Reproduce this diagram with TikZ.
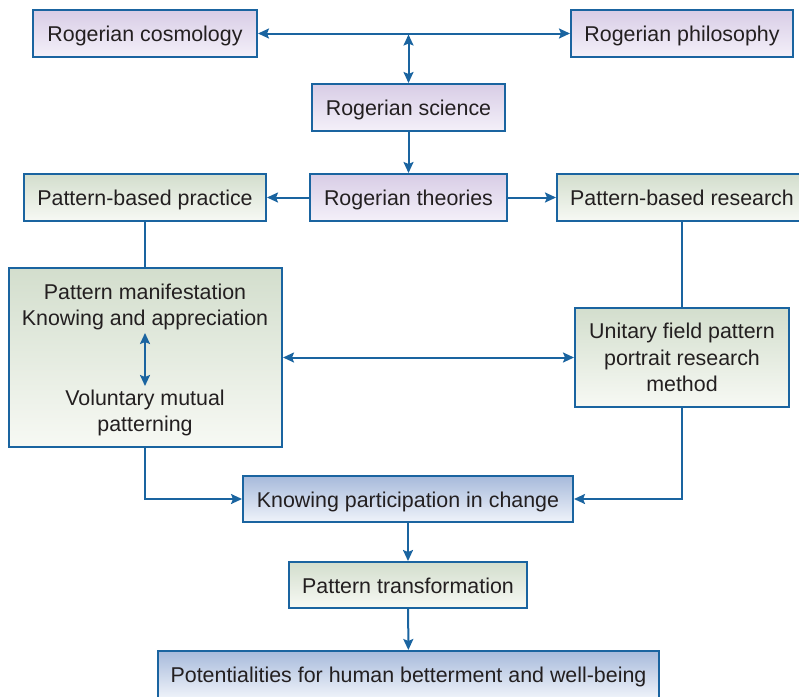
\documentclass[tikz,border=0pt]{standalone}
\usepackage{fontspec}
\setmainfont{Liberation Sans}
\usetikzlibrary{arrows.meta,calc}
\definecolor{edge}{HTML}{1A64A0}
\definecolor{txt}{HTML}{231F20}
\definecolor{purT}{HTML}{D8CDE6}
\definecolor{purB}{HTML}{F4F0F9}
\definecolor{grnT}{HTML}{D3DECD}
\definecolor{grnB}{HTML}{F7F9F4}
\definecolor{bluT}{HTML}{A7BADB}
\definecolor{bluB}{HTML}{EFF3FA}
\tikzset{
  box/.style={draw=edge, line width=2pt, inner sep=0pt, align=center, text=txt,
    font=\fontsize{21.4}{26.5}\selectfont},
  one/.style={text height=16.5pt, text depth=0pt},
  pur/.style={box, one, top color=purT, bottom color=purB},
  grn/.style={box, top color=grnT, bottom color=grnB},
  blu/.style={box, one, top color=bluT, bottom color=bluB},
  lbl/.style={inner sep=0pt, align=center, text=txt, font=\fontsize{21.4}{26.5}\selectfont},
  conn/.style={draw=edge, line width=2pt},
  arr/.style={conn, -{Stealth[length=11pt,width=10pt,inset=2pt]}},
  darr/.style={conn, {Stealth[length=11pt,width=10pt,inset=2pt]}-{Stealth[length=11pt,width=10pt,inset=2pt]}}
}
\begin{document}
\begin{tikzpicture}[x=1pt,y=-1pt]
\useasboundingbox (0,0) rectangle (799,696);
\begin{scope}
\clip (0,0) rectangle (799,696);
% boxes
\node[pur, minimum width=224pt, minimum height=47pt] (cos) at (145,33.5) {Rogerian cosmology};
\node[pur, minimum width=222pt, minimum height=47pt] (phi) at (682,33.5) {Rogerian philosophy};
\node[pur, minimum width=193pt, minimum height=47pt] (sci) at (408.5,107.5) {Rogerian science};
\node[pur, minimum width=197pt, minimum height=47pt] (the) at (408.5,197.5) {Rogerian theories};
\node[grn, one, minimum width=242pt, minimum height=47pt] (pra) at (145,197.5) {Pattern-based practice};
\node[grn, one, minimum width=250pt, minimum height=47pt] (res) at (682,197.5) {Pattern-based research};
\node[grn, minimum width=273pt, minimum height=179pt] (big) at (145.5,357.5) {};
\node[grn, minimum width=214pt, minimum height=99pt] (uni) at (682,357.5) {Unitary field pattern\\portrait research\\method};
\node[blu, minimum width=330pt, minimum height=46pt] (kno) at (408,499) {Knowing participation in change};
\node[grn, one, minimum width=238pt, minimum height=46pt] (tra) at (408,585) {Pattern transformation};
\node[blu, minimum width=501pt, minimum height=47pt] (pot) at (408.5,674.5) {Potentialities for human betterment and well-being};
% texts inside big box
\node[lbl] (pm) at (145,307) {Pattern manifestation\\Knowing and appreciation};
\node[lbl] (vm) at (145,413) {Voluntary mutual\\patterning};
\coordinate (pmA) at (145,333);
\coordinate (vmA) at (145,386);
% connectors
\draw[darr] (cos) -- (phi);
\coordinate (top) at (408.5,33.5);
\draw[darr] ($(top)+(0,1)$) -- (sci.north);
\draw[arr] (sci) -- (the);
\draw[arr] (the) -- (pra);
\draw[arr] (the) -- (res);
\draw[conn] (pra.south) -- (pra.south |- big.north);
\draw[conn] (res.south) -- (uni.north);
\draw[darr] (big) -- (uni);
\draw[darr] (pmA) -- (vmA);
\draw[arr] (big.south -| pra.south) |- (kno.west);
\draw[arr] (uni.south) |- (kno.east);
\draw[arr] (kno) -- (tra);
\draw[arr] (tra) -- (pot);
\end{scope}
\end{tikzpicture}
\end{document}
